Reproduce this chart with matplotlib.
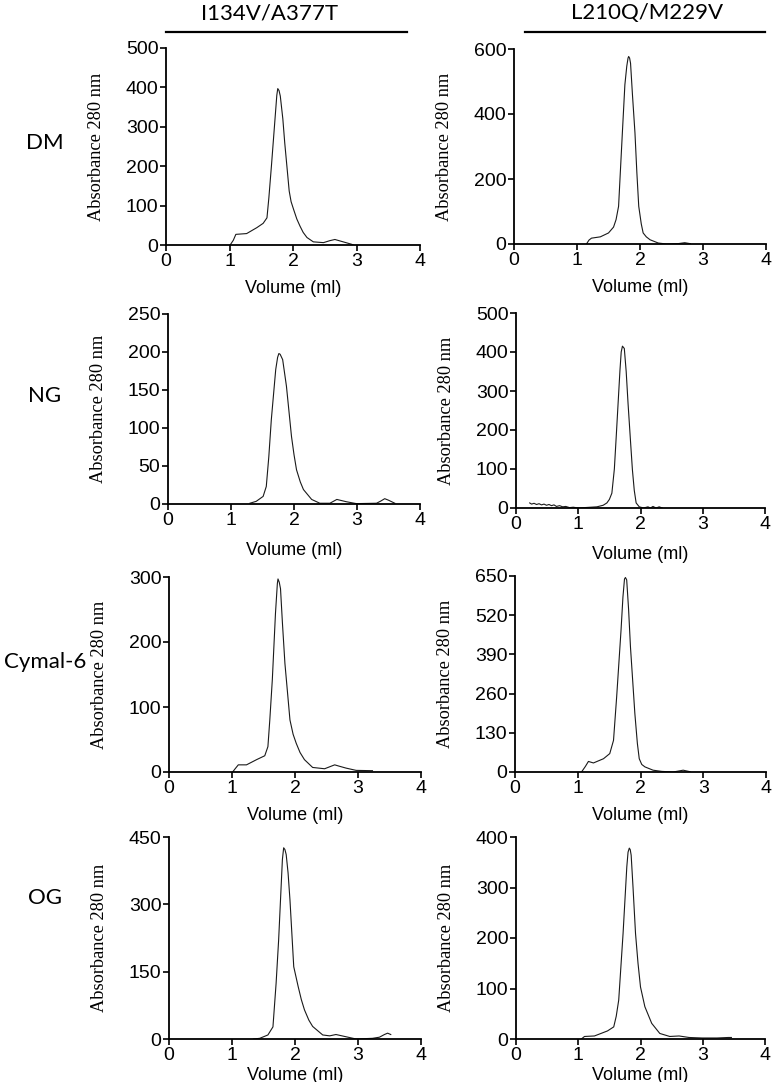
import numpy as np
import matplotlib
matplotlib.use("Agg")
import matplotlib.pyplot as plt

W, H = 773, 1082

mutants = ["I134V/A377T", "L210Q/M229V"]
detergents = ["DM", "NG", "Cymal-6", "OG"]

# elution profiles: volume (ml), absorbance 280 nm
dm_a_vol = [1.01, 1.06, 1.10, 1.27, 1.43, 1.53, 1.59, 1.62, 1.66, 1.72, 1.745, 1.76, 1.78, 1.80, 1.84, 1.87, 1.94, 1.97, 2.01, 2.06, 2.11, 2.16, 2.22, 2.32, 2.48, 2.58, 2.66, 2.79, 2.92, 2.95]
dm_a_abs = [0, 12, 27, 29, 44, 55, 69, 120, 200, 327, 380, 397, 392, 378, 320, 259, 137, 110, 90, 66, 48, 32, 19, 8, 6, 11, 14, 8, 2, 0]
dm_b_vol = [1.15, 1.19, 1.23, 1.37, 1.50, 1.58, 1.62, 1.66, 1.72, 1.76, 1.79, 1.81, 1.82, 1.835, 1.85, 1.88, 1.92, 1.95, 1.98, 2.02, 2.05, 2.10, 2.16, 2.29, 2.42, 2.60, 2.71, 2.80]
dm_b_abs = [0, 12, 18, 22, 34, 52, 75, 116, 342, 490, 547, 572, 577, 572, 556, 460, 342, 220, 116, 62, 34, 22, 13, 3, 0, 1, 4, 1]

ng_a_vol = [1.30, 1.40, 1.51, 1.56, 1.60, 1.64, 1.71, 1.74, 1.76, 1.78, 1.82, 1.88, 1.96, 2.00, 2.04, 2.10, 2.15, 2.28, 2.41, 2.57, 2.68, 2.83, 2.99, 3.31, 3.38, 3.44, 3.50, 3.60]
ng_a_abs = [1, 3.5, 10, 23, 62, 111, 177, 193, 198, 197, 190, 155, 89, 65, 45, 29, 19, 6, 1, 1, 6, 3, 0.5, 1, 4, 7, 5, 1]
ng_b_vol = [0.22, 0.25, 0.29, 0.33, 0.37, 0.41, 0.45, 0.49, 0.53, 0.57, 0.61, 0.65, 0.70, 0.75, 0.80, 0.86, 0.92, 1.00,
            1.30, 1.40, 1.46, 1.50, 1.54, 1.58, 1.61, 1.67, 1.69, 1.71, 1.74, 1.77, 1.80, 1.84, 1.87, 1.90, 1.93, 1.98,
            2.05, 2.12, 2.16, 2.20, 2.25, 2.30, 2.35]
ng_b_abs = [13, 10, 12, 9, 11, 8, 10, 7, 9, 6, 8, 4, 6, 3, 4, 1, 2, 0,
            3, 7, 13, 22, 38, 100, 183, 353, 400, 415, 409, 350, 268, 170, 98, 45, 13, 3,
            0, 3, 0, 4, 0, 3, 0]

cy_a_vol = [1.01, 1.05, 1.10, 1.23, 1.39, 1.52, 1.57, 1.60, 1.64, 1.69, 1.72, 1.73, 1.75, 1.77, 1.80, 1.84, 1.92, 1.97, 2.02, 2.08, 2.15, 2.28, 2.47, 2.55, 2.63, 2.70, 2.81, 2.97, 3.23]
cy_a_abs = [0, 5, 11, 11, 19, 25, 39, 80, 142, 244, 290, 297, 292, 282, 230, 167, 80, 58, 44, 30, 19, 7, 5, 8, 11, 9, 6, 2.5, 2]
cy_b_vol = [1.06, 1.12, 1.17, 1.25, 1.41, 1.51, 1.57, 1.62, 1.69, 1.72, 1.745, 1.76, 1.78, 1.81, 1.84, 1.91, 1.95, 1.98, 2.02, 2.07, 2.20, 2.34, 2.52, 2.60, 2.68, 2.79]
cy_b_abs = [0, 18, 35, 30, 44, 61, 105, 249, 471, 580, 640, 645, 637, 540, 415, 194, 95, 44, 25, 17, 6, 2, 0, 3, 6, 1]

og_a_vol = [1.34, 1.44, 1.57, 1.65, 1.70, 1.74, 1.77, 1.80, 1.82, 1.84, 1.86, 1.89, 1.92, 1.98, 2.05, 2.10, 2.15, 2.22, 2.28, 2.44, 2.55, 2.65, 2.81, 2.97, 3.23, 3.34, 3.42, 3.47, 3.52]
og_a_abs = [0, 1.5, 9, 27, 124, 220, 310, 400, 426, 422, 411, 370, 310, 161, 117, 88, 65, 42, 28, 9, 7, 10, 5, 0, 1.5, 4, 10, 13, 10]
og_b_vol = [1.05, 1.10, 1.26, 1.47, 1.57, 1.61, 1.65, 1.72, 1.78, 1.80, 1.82, 1.835, 1.85, 1.88, 1.92, 1.96, 2.00, 2.07, 2.18, 2.31, 2.47, 2.62, 2.78, 2.99, 3.23, 3.41, 3.46]
og_b_abs = [0, 5, 6, 16, 24, 45, 77, 209, 341, 370, 378, 375, 364, 300, 209, 150, 103, 64, 31, 11, 5, 6, 3, 2, 2, 3, 3]

traces = [
    [(dm_a_vol, dm_a_abs), (dm_b_vol, dm_b_abs)],
    [(ng_a_vol, ng_a_abs), (ng_b_vol, ng_b_abs)],
    [(cy_a_vol, cy_a_abs), (cy_b_vol, cy_b_abs)],
    [(og_a_vol, og_a_abs), (og_b_vol, og_b_abs)],
]

yticks = [
    [[0, 100, 200, 300, 400, 500], [0, 200, 400, 600]],
    [[0, 50, 100, 150, 200, 250], [0, 100, 200, 300, 400, 500]],
    [[0, 100, 200, 300], [0, 130, 260, 390, 520, 650]],
    [[0, 150, 300, 450], [0, 100, 200, 300, 400]],
]

# axes boxes in pixels: x0, x1, ytop, ybottom
boxes = [
    [(166, 420, 48, 245), (514, 766, 49, 244)],
    [(168, 420, 314, 504), (516, 765, 313, 508)],
    [(169, 421, 577, 772), (515, 766, 576, 772)],
    [(169, 421, 837, 1039), (516, 765, 837, 1039)],
]
xlabel_gap = [35, 38, 35, 28]
row_label_y = [143, 396, 662, 898]

sans = "Liberation Sans"
fig = plt.figure(figsize=(W / 100, H / 100), dpi=100)

for r in range(4):
    for c in range(2):
        x0, x1, yt, yb = boxes[r][c]
        ax = fig.add_axes([x0 / W, 1 - yb / H, (x1 - x0) / W, (yb - yt) / H])
        vol, ab = traces[r][c]
        ax.plot(vol, ab, color="#1a1a1a", lw=0.8)
        ticks = yticks[r][c]
        ax.set_xlim(0, 4)
        ax.set_ylim(0, ticks[-1])
        ax.set_yticks(ticks)
        ax.set_xticks([0, 1, 2, 3, 4])
        for s in ["top", "right"]:
            ax.spines[s].set_visible(False)
        for s in ["left", "bottom"]:
            ax.spines[s].set_linewidth(1.3)
        ax.tick_params(direction="out", length=4, width=1.2, labelsize=14, pad=1.5)
        for lab in ax.get_xticklabels() + ax.get_yticklabels():
            lab.set_fontfamily(sans)
        ax.set_xlabel("Volume (ml)", fontsize=13, fontfamily=sans)
        ax.xaxis.set_label_coords(0.5, -xlabel_gap[r] / (yb - yt))
        ax.set_ylabel("Absorbance 280 nm", fontsize=13.2, fontfamily="Liberation Serif")
        ax.yaxis.set_label_coords(-61 / (x1 - x0), 0.5)

# column headers with rule
for (cx, lx0, lx1), name in zip([(270, 166, 407), (647, 525, 765)], mutants):
    fig.text(cx / W, 1 - 13 / H, name, ha="center", va="center", fontsize=16, fontfamily="Lato")
    fig.add_artist(plt.Line2D([lx0 / W, lx1 / W], [1 - 32 / H, 1 - 32 / H], color="black", lw=1.6))

for name, y in zip(detergents, row_label_y):
    fig.text(45 / W, 1 - y / H, name, ha="center", va="center", fontsize=16, fontfamily="Lato")

fig.savefig("out.png", dpi=100)
